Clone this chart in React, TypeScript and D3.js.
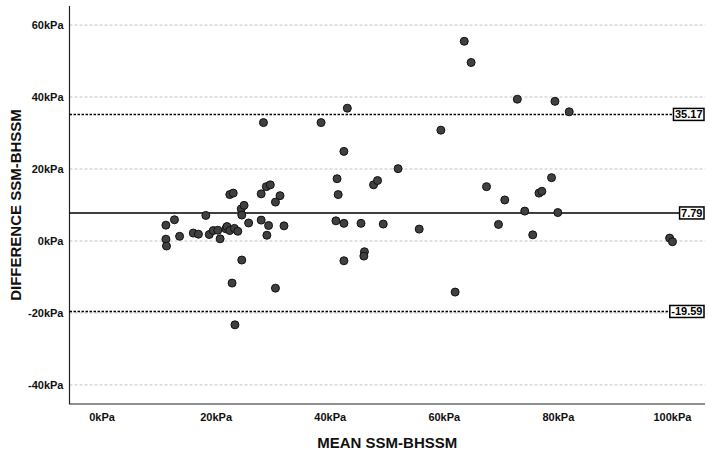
import React, { useEffect, useRef } from "react";
import * as d3 from "d3";

// Bland–Altman data: mean of the two methods (kPa) and their difference (kPa)
const meanValues: number[] = [
  11.2, 12.7, 11.2, 11.3, 13.6, 16.0, 16.9, 18.2, 18.8, 19.5,
  20.3, 20.7, 21.7, 21.9, 22.4, 22.4, 23.0, 22.8, 23.2, 23.8,
  23.3, 24.4, 24.9, 24.5, 24.5, 25.7, 27.9, 27.9, 28.8, 29.5,
  29.2, 28.9, 30.4, 31.2, 31.9, 30.4, 28.3,
  63.5, 64.7, 72.8, 79.4, 81.9, 43.0, 38.4, 59.4, 42.4, 51.9,
  41.2, 41.4, 47.6, 48.3, 67.4, 70.6, 78.8, 76.6, 77.1, 74.1, 79.9,
  41.0, 42.4, 45.4, 49.3, 55.6, 69.5, 75.5, 46.0, 45.9, 42.4, 61.9,
  99.5, 100.0,
];
const diffValues: number[] = [
  4.4, 5.9, 0.5, -1.4, 1.3, 2.2, 1.9, 7.1, 1.8, 2.9,
  3.0, 0.6, 3.4, 4.0, 2.9, 12.9, 13.3, -11.7, 3.5, 2.7,
  -23.3, 8.9, 9.9, 7.2, -5.3, 5.0, 13.1, 5.8, 15.1, 15.6,
  4.3, 1.6, 10.8, 12.6, 4.2, -13.1, 32.9,
  55.5, 49.6, 39.4, 38.8, 35.9, 36.9, 32.9, 30.8, 24.9, 20.1,
  17.3, 12.9, 15.6, 16.8, 15.1, 11.4, 17.6, 13.3, 13.8, 8.3, 7.9,
  5.6, 4.9, 4.9, 4.7, 3.3, 4.6, 1.7, -3.0, -4.2, -5.5, -14.2,
  0.8, -0.2,
];

// Mean difference and limits of agreement
const refValues: number[] = [35.17, 7.79, -19.59];
const refLabels: string[] = ["35.17", "7.79", "-19.59"];
const refDashed: boolean[] = [true, false, true];

const xTicks: number[] = [0, 20, 40, 60, 80, 100];
const yTicks: number[] = [-40, -20, 0, 20, 40, 60];
const xTitle = "MEAN SSM-BHSSM";
const yTitle = "DIFFERENCE SSM-BHSSM";

const W = 709;
const H = 454;
const left = 69.5;
const right = 705;
const top = 6;
const bottom = 404;

const FONT = "'Liberation Sans Narrow', 'Liberation Sans', Arial, sans-serif";

export default function App() {
  const ref = useRef<SVGSVGElement | null>(null);

  useEffect(() => {
    const svg = d3.select(ref.current);
    svg.selectAll("*").remove();

    const x = d3.scaleLinear().domain([-5.7, 105.7]).range([left, right]);
    const y = d3.scaleLinear().domain([-45.3, 65.3]).range([bottom, top]);

    // horizontal gridlines
    svg
      .append("g")
      .selectAll("line")
      .data(yTicks)
      .join("line")
      .attr("x1", left)
      .attr("x2", right)
      .attr("y1", (d) => y(d))
      .attr("y2", (d) => y(d))
      .attr("stroke", "#c4c4c4")
      .attr("stroke-width", 1)
      .attr("stroke-dasharray", "3,2");

    // axis lines
    svg
      .append("path")
      .attr("d", `M${left},${top}V${bottom}H${right}`)
      .attr("fill", "none")
      .attr("stroke", "#222")
      .attr("stroke-width", 1.2);

    // tick labels
    svg
      .append("g")
      .selectAll("text")
      .data(yTicks)
      .join("text")
      .attr("x", left - 6)
      .attr("y", (d) => y(d))
      .attr("dy", "0.35em")
      .attr("text-anchor", "end")
      .attr("font-family", FONT)
      .attr("font-weight", "bold")
      .attr("font-size", 11)
      .attr("fill", "#111")
      .text((d) => `${d}kPa`);

    svg
      .append("g")
      .selectAll("text")
      .data(xTicks)
      .join("text")
      .attr("x", (d) => x(d))
      .attr("y", bottom + 17)
      .attr("text-anchor", "middle")
      .attr("font-family", FONT)
      .attr("font-weight", "bold")
      .attr("font-size", 11)
      .attr("fill", "#111")
      .text((d) => `${d}kPa`);

    // axis titles
    svg
      .append("text")
      .attr("x", (left + right) / 2)
      .attr("y", 448)
      .attr("text-anchor", "middle")
      .attr("font-family", FONT)
      .attr("font-weight", "bold")
      .attr("font-size", 15)
      .attr("fill", "#111")
      .text(xTitle);

    svg
      .append("text")
      .attr("transform", `translate(21,${(top + bottom) / 2}) rotate(-90)`)
      .attr("text-anchor", "middle")
      .attr("font-family", FONT)
      .attr("font-weight", "bold")
      .attr("font-size", 15)
      .attr("fill", "#111")
      .text(yTitle);

    // reference lines with boxed value labels at the right end
    const refG = svg.append("g");
    refValues.forEach((v, i) => {
      const g = refG.append("g");
      const line = g
        .append("line")
        .attr("x1", left)
        .attr("y1", y(v))
        .attr("y2", y(v))
        .attr("stroke", "#000")
        .attr("stroke-width", 1.5);
      if (refDashed[i]) line.attr("stroke-dasharray", "2.5,1.5");
      const rect = g.append("rect");
      const t = g
        .append("text")
        .attr("x", 702.5)
        .attr("y", y(v))
        .attr("dy", "0.36em")
        .attr("text-anchor", "end")
        .attr("font-family", FONT)
        .attr("font-weight", "bold")
        .attr("font-size", 11)
        .attr("fill", "#000")
        .text(refLabels[i]);
      const bb = (t.node() as SVGTextElement).getBBox();
      const bx = bb.x - 1.5;
      const bw = bb.width + 3;
      rect
        .attr("x", bx)
        .attr("y", y(v) - 6)
        .attr("width", bw)
        .attr("height", 12)
        .attr("fill", "#fff")
        .attr("stroke", "#000")
        .attr("stroke-width", 1.5);
      line.attr("x2", bx);
    });

    // data points
    svg
      .append("g")
      .selectAll("circle")
      .data(meanValues.map((m, i) => [m, diffValues[i]] as [number, number]))
      .join("circle")
      .attr("cx", (d) => x(d[0]))
      .attr("cy", (d) => y(d[1]))
      .attr("r", 4)
      .attr("fill", "#404040")
      .attr("stroke", "#111")
      .attr("stroke-width", 1);
  }, []);

  return (
    <svg
      ref={ref}
      width={W}
      height={H}
      style={{ position: "absolute", left: 0, top: 0, background: "#fff" }}
    />
  );
}
